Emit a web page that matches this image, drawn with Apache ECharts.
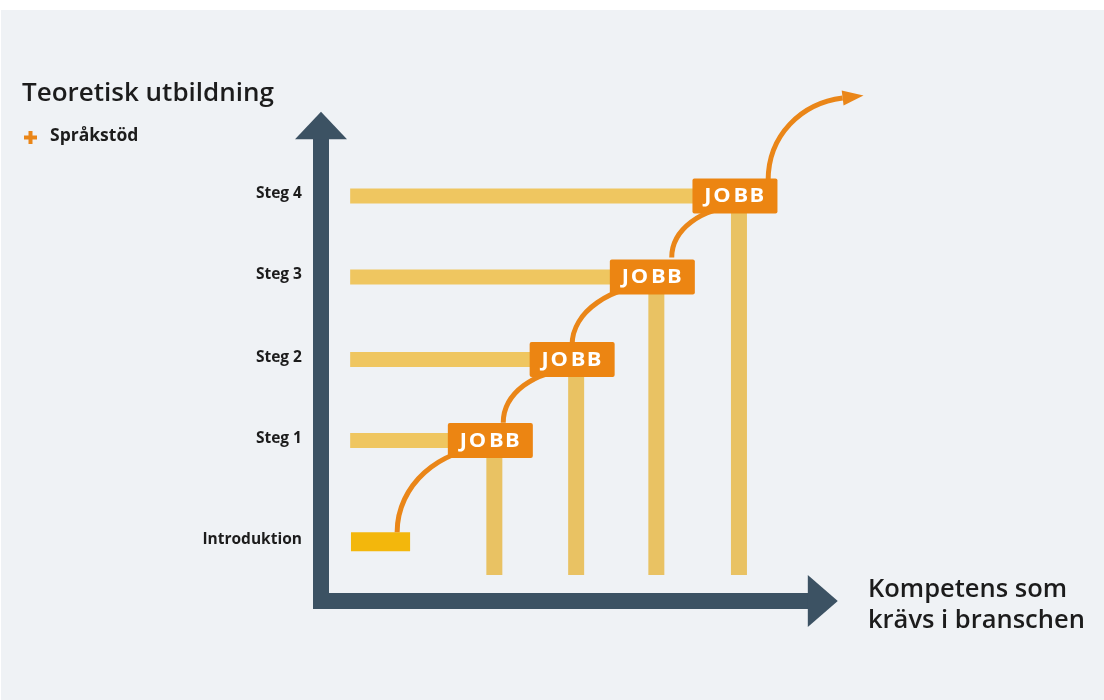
<!DOCTYPE html>
<html><head><meta charset="utf-8">
<script src="https://cdn.jsdelivr.net/npm/echarts@6/dist/echarts.min.js"></script>
<style>html,body{margin:0;padding:0;background:#fff;}#c{width:1104px;height:700px;}</style>
</head><body><div id="c"></div>
<script>
// ---- data (diagram values) ----
const stepLabels = ['Introduktion', 'Steg 1', 'Steg 2', 'Steg 3', 'Steg 4'];
const stepLevels = [0.73, 1.98, 2.98, 4.00, 5.00];        // teoretisk utbildning
const stepStart = [0.37, 0.36, 0.36, 0.36, 0.36];
const stepEnd = [1.10, 2.14, 3.15, 4.14, 5.16];
const jobLabels = ['JOBB', 'JOBB', 'JOBB', 'JOBB'];
const jobCompetence = [2.14, 3.15, 4.14, 5.16];           // kompetens som krävs
const jobLevel = [1.98, 2.98, 4.00, 5.00];
const jobFloor = 0.32;
const pathFromX = [0.94, 2.25, 3.10, 4.33, 5.52];
const pathFromY = [0.85, 2.20, 3.16, 4.24, 5.19];
const pathToX = [2.09, 3.11, 4.16, 5.15, 6.44];
const pathToY = [1.89, 2.85, 3.90, 4.86, 6.21];
const yAxisName = 'Teoretisk utbildning';
const xAxisName = 'Kompetens som\nkrävs i branschen';
const legendName = 'Språkstöd';

const FONT = "'Open Sans', 'Noto Sans', sans-serif";
const AXIS = '#3c5263';
const ORANGE = '#ea8618';

const chart = echarts.init(document.getElementById('c'), null, { renderer: 'canvas' });

const option = {
  animation: false,
  backgroundColor: '#ffffff',
  grid: { left: 321, top: 82.6, width: 567, height: 518.4 },
  xAxis: { type: 'value', min: 0, max: 7, show: false },
  yAxis: { type: 'value', min: 0, max: 6.4, show: false },
  title: [
    { text: yAxisName, left: 17, top: 76,
      textStyle: { fontFamily: FONT, fontSize: 26, fontWeight: 600, color: '#1c1c1c' } },
    { text: xAxisName, left: 863, top: 569,
      textStyle: { fontFamily: FONT, fontSize: 25.5, fontWeight: 600, color: '#1c1c1c', lineHeight: 31 } }
  ],
  graphic: [
    { type: 'rect', z: -100, silent: true, shape: { x: 1, y: 10, width: 1103, height: 690 }, style: { fill: '#eff2f5' } },
    { type: 'group', left: 24, top: 131, children: [
      { type: 'rect', shape: { x: 4.5, y: 0, width: 4, height: 13 }, style: { fill: ORANGE } },
      { type: 'rect', shape: { x: 0, y: 4.5, width: 13, height: 4 }, style: { fill: ORANGE } }
    ] },
    { type: 'text', left: 50, top: 127, style: { text: legendName, fontFamily: FONT, fontSize: 17.5, fontWeight: 700, fill: '#1c1c1c' } }
  ],
  series: [
    { // axes arrows
      type: 'custom', name: 'axlar', coordinateSystem: 'cartesian2d', clip: false, silent: true, z: 1,
      data: [[0, 0]],
      renderItem(params, api) {
        const o = api.coord([0, 0]);
        const yTip = api.coord([0, 6.04]), yBase = api.coord([0, 5.70]);
        const xTip = api.coord([6.38, 0]), xBase = api.coord([6.01, 0]);
        const hw = 8, ah = 26;
        return { type: 'group', children: [
          { type: 'rect', shape: { x: o[0] - hw, y: yBase[1] - 0.5, width: 2 * hw, height: o[1] + hw - yBase[1] + 0.5 }, style: { fill: AXIS } },
          { type: 'polygon', shape: { points: [[yTip[0], yTip[1]], [yBase[0] - ah, yBase[1]], [yBase[0] + ah, yBase[1]]] }, style: { fill: AXIS } },
          { type: 'rect', shape: { x: o[0] - hw, y: o[1] - hw, width: xBase[0] - o[0] + hw + 0.5, height: 2 * hw }, style: { fill: AXIS } },
          { type: 'polygon', shape: { points: [[xTip[0], xTip[1]], [xBase[0], xBase[1] - ah], [xBase[0], xBase[1] + ah]] }, style: { fill: AXIS } }
        ] };
      }
    },
    { // horizontal steps
      type: 'custom', name: 'steg', coordinateSystem: 'cartesian2d', clip: false, silent: true, z: 2,
      data: stepLabels.map((n, i) => [stepStart[i], stepLevels[i], stepEnd[i]]),
      renderItem(params, api) {
        const i = params.dataIndex;
        const a = api.coord([api.value(0), api.value(1)]);
        const b = api.coord([api.value(2), api.value(1)]);
        const h = i === 0 ? 19 : 15;
        return { type: 'rect', shape: { x: a[0], y: a[1] - h / 2, width: b[0] - a[0], height: h },
          style: { fill: i === 0 ? '#f3b70c' : '#efc660' } };
      }
    },
    { // vertical job bars
      type: 'custom', name: 'jobbstaplar', coordinateSystem: 'cartesian2d', clip: false, silent: true, z: 2,
      data: jobCompetence.map((x, i) => [x, jobLevel[i], jobFloor]),
      renderItem(params, api) {
        const t = api.coord([api.value(0), api.value(1)]);
        const b = api.coord([api.value(0), api.value(2)]);
        const w = 16;
        return { type: 'rect', shape: { x: t[0] - w / 2, y: t[1], width: w, height: b[1] - t[1] },
          style: { fill: '#e9c263' } };
      }
    },
    { // orange path
      type: 'custom', name: 'väg', coordinateSystem: 'cartesian2d', clip: false, silent: true, z: 3,
      data: pathFromX.map((x, i) => [x, pathFromY[i], pathToX[i], pathToY[i]]),
      renderItem(params, api) {
        const A = api.coord([api.value(0), api.value(1)]);
        const B = api.coord([api.value(2), api.value(3)]);
        const k = 0.552;
        const last = params.dataIndex === pathFromX.length - 1;
        const dx = (B[0] - A[0]) * k;
        const tilt = last ? 0.125 : 0;
        const c1 = [A[0], A[1] + (B[1] - A[1]) * k];
        const c2 = [B[0] - dx, B[1] + dx * tilt];
        const children = [{ type: 'bezierCurve',
          shape: { x1: A[0], y1: A[1], x2: B[0], y2: B[1], cpx1: c1[0], cpy1: c1[1], cpx2: c2[0], cpy2: c2[1] },
          style: { stroke: ORANGE, lineWidth: 5, fill: null } }];
        if (last) {
          const len = 21, hw = 7.5;
          const ux = 1 / Math.sqrt(1 + tilt * tilt), uy = -tilt / Math.sqrt(1 + tilt * tilt);
          const tip = [B[0] + ux * len, B[1] + uy * len];
          const px = -uy, py = ux;
          children.push({ type: 'polygon', shape: { points: [tip, [B[0] + px * hw, B[1] + py * hw], [B[0] - px * hw, B[1] - py * hw]] },
            style: { fill: ORANGE } });
        }
        return { type: 'group', children };
      }
    },
    { // JOBB boxes
      type: 'custom', name: 'jobb', coordinateSystem: 'cartesian2d', clip: false, silent: true, z: 4,
      data: jobCompetence.map((x, i) => [x, jobLevel[i]]),
      renderItem(params, api) {
        const c = api.coord([api.value(0), api.value(1)]);
        const w = 85, h = 35;
        const label = jobLabels[params.dataIndex];
        const bx = c[0] - 4;
        const offs = [-27, -13, 6, 22];
        const children = [{ type: 'rect', shape: { x: bx - w / 2, y: c[1] - h / 2, width: w, height: h, r: 2 },
          style: { fill: '#ec8512' } }];
        label.split('').forEach((ch, j) => {
          children.push({ type: 'text', x: bx + offs[j], y: c[1] + 1, scaleX: 1.15,
            style: { text: ch, fill: '#ffffff', fontFamily: FONT, fontSize: 19, fontWeight: 700, align: 'center', verticalAlign: 'middle' } });
        });
        return { type: 'group', children };
      }
    },
    { // level labels
      type: 'custom', name: 'nivåer', coordinateSystem: 'cartesian2d', clip: false, silent: true, z: 4,
      data: stepLevels.map(v => [-0.235, v]),
      renderItem(params, api) {
        const c = api.coord([api.value(0), api.value(1)]);
        return { type: 'text', x: c[0], y: c[1] - 2,
          style: { text: stepLabels[params.dataIndex], fill: '#1c1c1c', fontFamily: FONT, fontSize: 15.5, fontWeight: 700, align: 'right', verticalAlign: 'middle' } };
      }
    }
  ]
};
chart.setOption(option);
</script></body></html>
